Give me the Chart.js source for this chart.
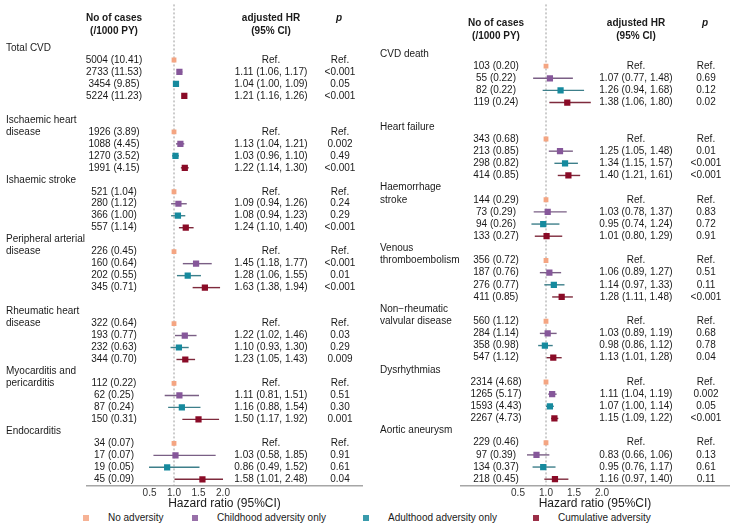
<!DOCTYPE html>
<html><head><meta charset="utf-8">
<script src="https://cdn.jsdelivr.net/npm/chart.js@4.4.1/dist/chart.umd.min.js"></script>
<style>
html,body{margin:0;padding:0;background:#fff;}
#wrap{position:relative;width:738px;height:528px;overflow:hidden;font-family:'Liberation Sans',Arial,sans-serif;}
.panel{position:absolute;top:0;width:369px;height:511px;}
.lgsq{position:absolute;width:6px;height:6px;}
.lgtx{position:absolute;font-size:10px;line-height:12px;color:#1a1a1a;white-space:nowrap;}
</style></head><body>
<div id="wrap">
  <div class="panel" style="left:0"><canvas id="c1"></canvas></div>
  <div class="panel" style="left:369px"><canvas id="c2"></canvas></div>
  <div id="legend"></div>
</div>
<script>
// ---------------- DATA ----------------
const seriesNames = ['No adversity', 'Childhood adversity only', 'Adulthood adversity only', 'Cumulative adversity'];
const xTicks = [0.5, 1.0, 1.5, 2.0];
const axisTitle = 'Hazard ratio (95%CI)';
const headCases = ['No of cases', '(/1000 PY)'];
const headHR = ['adjusted HR', '(95% CI)'];
const headP = 'p';

const leftOutcomes = ['Total CVD', 'Ischaemic heart\ndisease', 'Ishaemic stroke', 'Peripheral arterial\ndisease',
  'Rheumatic heart\ndisease', 'Myocarditis and\npericarditis', 'Endocarditis'];
const leftCases = [
  ['5004 (10.41)', '2733 (11.53)', '3454 (9.85)', '5224 (11.23)'],
  ['1926 (3.89)', '1088 (4.45)', '1270 (3.52)', '1991 (4.15)'],
  ['521 (1.04)', '280 (1.12)', '366 (1.00)', '557 (1.14)'],
  ['226 (0.45)', '160 (0.64)', '202 (0.55)', '345 (0.71)'],
  ['322 (0.64)', '193 (0.77)', '232 (0.63)', '344 (0.70)'],
  ['112 (0.22)', '62 (0.25)', '87 (0.24)', '150 (0.31)'],
  ['34 (0.07)', '17 (0.07)', '19 (0.05)', '45 (0.09)']
];
const leftHR = [
  [1, 1.11, 1.04, 1.21], [1, 1.13, 1.03, 1.22], [1, 1.09, 1.08, 1.24], [1, 1.45, 1.28, 1.63],
  [1, 1.22, 1.10, 1.23], [1, 1.11, 1.16, 1.50], [1, 1.03, 0.86, 1.58]
];
const leftLower = [
  [null, 1.06, 1.00, 1.16], [null, 1.04, 0.96, 1.14], [null, 0.94, 0.94, 1.10], [null, 1.18, 1.06, 1.38],
  [null, 1.02, 0.93, 1.05], [null, 0.81, 0.88, 1.17], [null, 0.58, 0.49, 1.01]
];
const leftUpper = [
  [null, 1.17, 1.09, 1.26], [null, 1.21, 1.10, 1.30], [null, 1.26, 1.23, 1.40], [null, 1.77, 1.55, 1.94],
  [null, 1.46, 1.30, 1.43], [null, 1.51, 1.54, 1.92], [null, 1.85, 1.52, 2.48]
];
const leftP = [
  ['Ref.', '<0.001', '0.05', '<0.001'], ['Ref.', '0.002', '0.49', '<0.001'], ['Ref.', '0.24', '0.29', '<0.001'],
  ['Ref.', '<0.001', '0.01', '<0.001'], ['Ref.', '0.03', '0.29', '0.009'], ['Ref.', '0.51', '0.30', '0.001'],
  ['Ref.', '0.91', '0.61', '0.04']
];

const rightOutcomes = ['CVD death', 'Heart failure', 'Haemorrhage\nstroke', 'Venous\nthromboembolism',
  'Non\u2212rheumatic\nvalvular disease', 'Dysrhythmias', 'Aortic aneurysm'];
const rightCases = [
  ['103 (0.20)', '55 (0.22)', '82 (0.22)', '119 (0.24)'],
  ['343 (0.68)', '213 (0.85)', '298 (0.82)', '414 (0.85)'],
  ['144 (0.29)', '73 (0.29)', '94 (0.26)', '133 (0.27)'],
  ['356 (0.72)', '187 (0.76)', '276 (0.77)', '411 (0.85)'],
  ['560 (1.12)', '284 (1.14)', '358 (0.98)', '547 (1.12)'],
  ['2314 (4.68)', '1265 (5.17)', '1593 (4.43)', '2267 (4.73)'],
  ['229 (0.46)', '97 (0.39)', '134 (0.37)', '218 (0.45)']
];
const rightHR = [
  [1, 1.07, 1.26, 1.38], [1, 1.25, 1.34, 1.40], [1, 1.03, 0.95, 1.01], [1, 1.06, 1.14, 1.28],
  [1, 1.03, 0.98, 1.13], [1, 1.11, 1.07, 1.15], [1, 0.83, 0.95, 1.16]
];
const rightLower = [
  [null, 0.77, 0.94, 1.06], [null, 1.05, 1.15, 1.21], [null, 0.78, 0.74, 0.80], [null, 0.89, 0.97, 1.11],
  [null, 0.89, 0.86, 1.01], [null, 1.04, 1.00, 1.09], [null, 0.66, 0.76, 0.97]
];
const rightUpper = [
  [null, 1.48, 1.68, 1.80], [null, 1.48, 1.57, 1.61], [null, 1.37, 1.24, 1.29], [null, 1.27, 1.33, 1.48],
  [null, 1.19, 1.12, 1.28], [null, 1.19, 1.14, 1.22], [null, 1.06, 1.17, 1.40]
];
const rightP = [
  ['Ref.', '0.69', '0.12', '0.02'], ['Ref.', '0.01', '<0.001', '<0.001'], ['Ref.', '0.83', '0.72', '0.91'],
  ['Ref.', '0.51', '0.11', '<0.001'], ['Ref.', '0.68', '0.78', '0.04'], ['Ref.', '0.002', '0.05', '<0.001'],
  ['Ref.', '0.13', '0.61', '0.11']
];

// ---------------- STYLE / LAYOUT ----------------
const FONT = "'Liberation Sans', Arial, Helvetica, sans-serif";
const TEXT = '#1a1a1a';
const COLORS = ['#F4A582', '#86579A', '#168A9E', '#8A0B27'];
const LINE_COLORS = ['#F4A582', '#7a5f85', '#3d7f8a', '#7e2a3c'];
const POINT_R = [3.4, 4.4, 4.4, 4.4];
const CI_CAP = 2.0;

const leftLayout = { xMin: -0.776, xMax: 4.837, yMin: -3.64, yMax: 36.56, padL: 87, padR: 7,
  labelX: 6, casesX: 114, hrX: 271, pX: 340, gapAfter: [1, 0, 0, 1, 0, 0, 0] };
const rightLayout = { xMin: -0.518, xMax: 4.268, yMin: -4.08, yMax: 35.56, padL: 92, padR: 9,
  labelX: 11, casesX: 127, hrX: 267, pX: 337, gapAfter: [1, 0, 0, 0, 0, 0, 0] };

function labelRows(layout, n) {
  const rows = []; let r = 0;
  for (let i = 0; i < n; i++) { rows.push(r); r += 5 + layout.gapAfter[i]; }
  return rows;
}

function makePanel(canvasId, outcomes, cases, hr, lower, upper, pvals, layout) {
  const rows = labelRows(layout, outcomes.length);
  const datasets = seriesNames.map((name, s) => ({
    label: name,
    data: outcomes.map((o, i) => ({ x: hr[i][s], y: rows[i] + 1 + s })),
    backgroundColor: COLORS[s],
    borderWidth: 0,
    pointStyle: 'rect',
    pointRadius: POINT_R[s],
    pointHoverRadius: POINT_R[s]
  }));

  const forestPlugin = {
    id: 'forest',
    beforeDatasetsDraw(chart) {
      const { ctx, chartArea } = chart;
      const xs = chart.scales.x, ys = chart.scales.y;
      ctx.save();
      // reference line at HR = 1
      const x1 = xs.getPixelForValue(1);
      ctx.strokeStyle = '#9a9a9a'; ctx.lineWidth = 1; ctx.setLineDash([2, 2]);
      ctx.beginPath(); ctx.moveTo(x1, chartArea.top); ctx.lineTo(x1, chartArea.bottom); ctx.stroke();
      ctx.setLineDash([]);
      // confidence intervals
      ctx.lineWidth = 1.4;
      outcomes.forEach((o, i) => {
        for (let s = 0; s < seriesNames.length; s++) {
          if (lower[i][s] == null) continue;
          const y = ys.getPixelForValue(rows[i] + 1 + s);
          ctx.strokeStyle = LINE_COLORS[s];
          ctx.beginPath();
          ctx.moveTo(xs.getPixelForValue(lower[i][s]), y);
          ctx.lineTo(xs.getPixelForValue(Math.min(upper[i][s], CI_CAP)), y);
          ctx.stroke();
        }
      });
      ctx.restore();
    },
    afterDraw(chart) {
      const { ctx } = chart;
      const ys = chart.scales.y;
      ctx.save();
      ctx.fillStyle = TEXT;
      ctx.textBaseline = 'middle';
      // headers
      const hy = ys.getPixelForValue(-2);
      ctx.font = 'bold 10px ' + FONT;
      ctx.textAlign = 'center';
      ctx.fillText(headCases[0], layout.casesX, hy - 6);
      ctx.fillText(headCases[1], layout.casesX, hy + 7);
      ctx.fillText(headHR[0], layout.hrX, hy - 6);
      ctx.fillText(headHR[1], layout.hrX, hy + 7);
      ctx.font = 'italic bold 10px ' + FONT;
      ctx.fillText(headP, layout.pX - 1, hy - 6);
      // rows
      outcomes.forEach((o, i) => {
        ctx.font = '10px ' + FONT;
        ctx.textAlign = 'left';
        o.split('\n').forEach((line, k) => {
          ctx.fillText(line, layout.labelX, ys.getPixelForValue(rows[i] + k));
        });
        ctx.textAlign = 'center';
        for (let s = 0; s < seriesNames.length; s++) {
          const y = ys.getPixelForValue(rows[i] + 1 + s);
          ctx.fillText(cases[i][s], layout.casesX, y);
          const t = lower[i][s] == null ? 'Ref.' :
            hr[i][s].toFixed(2) + ' (' + lower[i][s].toFixed(2) + ', ' + upper[i][s].toFixed(2) + ')';
          ctx.fillText(t, layout.hrX, y);
          ctx.fillText(pvals[i][s], layout.pX, y);
        }
      });
      ctx.restore();
    }
  };

  return new Chart(document.getElementById(canvasId), {
    type: 'scatter',
    data: { datasets },
    plugins: [forestPlugin],
    options: {
      responsive: true, maintainAspectRatio: false, animation: false,
      layout: { padding: { left: layout.padL, right: layout.padR, top: 0, bottom: 0 } },
      plugins: { legend: { display: false }, tooltip: { enabled: false } },
      scales: {
        x: {
          type: 'linear', min: layout.xMin, max: layout.xMax,
          afterBuildTicks: (sc) => { sc.ticks = xTicks.map(v => ({ value: v })); },
          afterFit: (sc) => { sc.height = 25; },
          grid: { display: false, drawTicks: false },
          border: { display: true, color: '#a6a6a6', width: 1.6 },
          ticks: { padding: 1, color: '#333', font: { family: FONT, size: 10 }, callback: v => Number(v).toFixed(1) },
          title: { display: true, text: axisTitle, color: TEXT, padding: 0, font: { family: FONT, size: 12 } }
        },
        y: { type: 'linear', reverse: true, min: layout.yMin, max: layout.yMax, display: false }
      }
    }
  });
}

makePanel('c1', leftOutcomes, leftCases, leftHR, leftLower, leftUpper, leftP, leftLayout);
makePanel('c2', rightOutcomes, rightCases, rightHR, rightLower, rightUpper, rightP, rightLayout);

// legend
const legendX = [86, 195, 366, 536];
const lg = document.getElementById('legend');
seriesNames.forEach((name, s) => {
  const sq = document.createElement('div');
  sq.className = 'lgsq';
  sq.style.left = (legendX[s] - 3) + 'px'; sq.style.top = '515px';
  sq.style.background = COLORS[s]; sq.style.opacity = '0.85';
  lg.appendChild(sq);
  const tx = document.createElement('div');
  tx.className = 'lgtx';
  tx.style.left = (legendX[s] + 22) + 'px'; tx.style.top = '512px';
  tx.textContent = name;
  lg.appendChild(tx);
});
</script>
</body></html>
